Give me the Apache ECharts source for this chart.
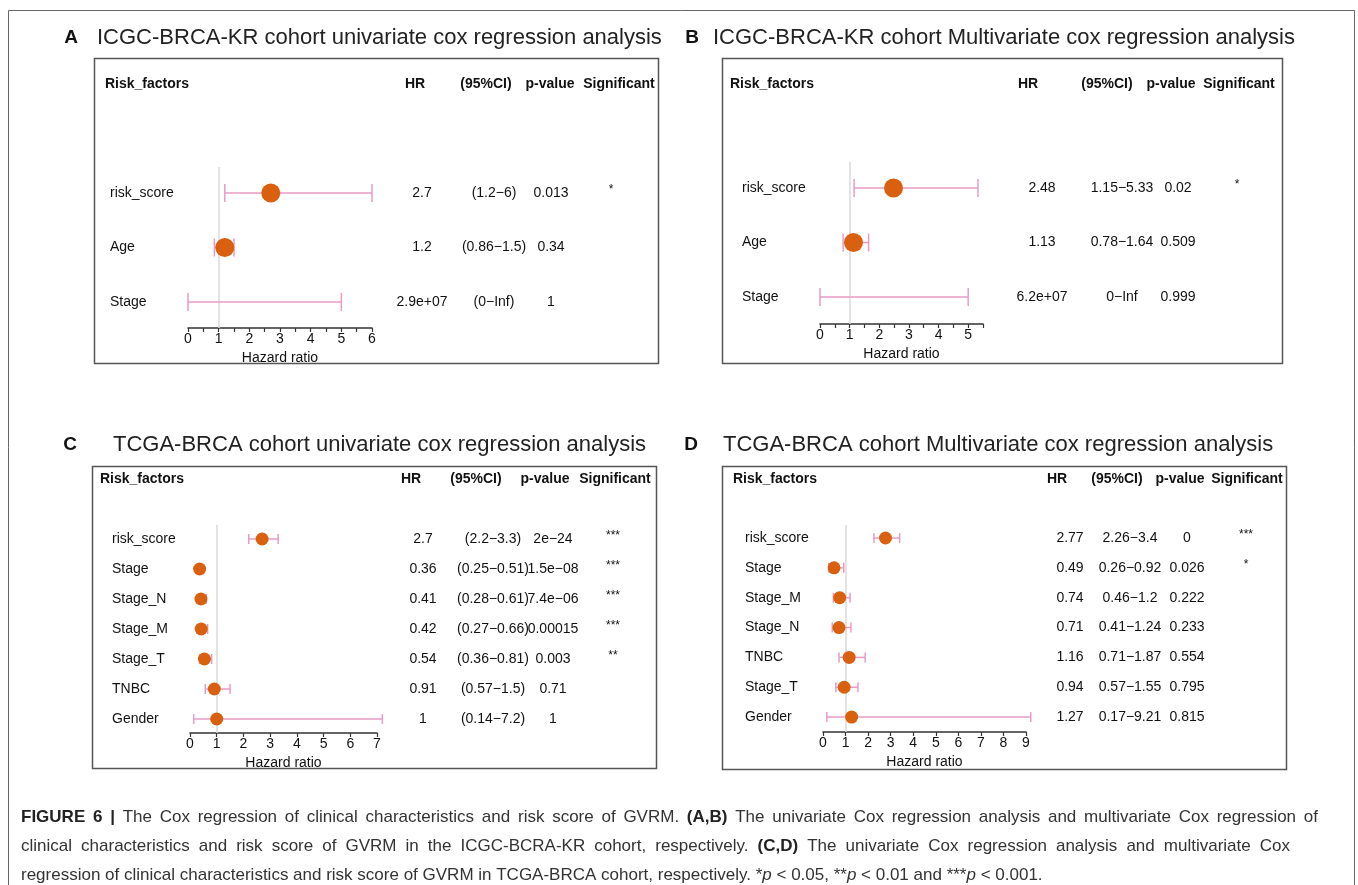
<!DOCTYPE html>
<html>
<head>
<meta charset="utf-8">
<script src="https://cdn.jsdelivr.net/npm/echarts@6.0.0/dist/echarts.min.js"></script>
<style>
html,body{margin:0;padding:0;background:#fff;}
#chart{width:1358px;height:885px;}
</style>
</head>
<body>
<div id="chart"></div>
<script>
// ---------------- DATA ----------------
const headerLabels = ['Risk_factors', 'HR', '(95%CI)', 'p-value', 'Significant'];

// Panel A : ICGC-BRCA-KR univariate
const aTitle = 'ICGC-BRCA-KR cohort univariate cox regression analysis';
const aFactors = ['risk_score', 'Age', 'Stage'];
const aHR = [2.7, 1.2, null];
const aLow = [1.2, 0.86, 0];
const aHigh = [6, 1.5, 5];
const aHRText = ['2.7', '1.2', '2.9e+07'];
const aCIText = ['(1.2\u22126)', '(0.86\u22121.5)', '(0\u2212Inf)'];
const aPText = ['0.013', '0.34', '1'];
const aSigText = ['*', '', ''];
const aTicks = [0, 1, 2, 3, 4, 5, 6];

// Panel B : ICGC-BRCA-KR multivariate
const bTitle = 'ICGC-BRCA-KR cohort Multivariate cox regression analysis';
const bFactors = ['risk_score', 'Age', 'Stage'];
const bHR = [2.48, 1.13, null];
const bLow = [1.15, 0.78, 0];
const bHigh = [5.33, 1.64, 5];
const bHRText = ['2.48', '1.13', '6.2e+07'];
const bCIText = ['1.15\u22125.33', '0.78\u22121.64', '0\u2212Inf'];
const bPText = ['0.02', '0.509', '0.999'];
const bSigText = ['*', '', ''];
const bTicks = [0, 1, 2, 3, 4, 5];

// Panel C : TCGA-BRCA univariate
const cTitle = 'TCGA-BRCA cohort univariate cox regression analysis';
const cFactors = ['risk_score', 'Stage', 'Stage_N', 'Stage_M', 'Stage_T', 'TNBC', 'Gender'];
const cHR = [2.7, 0.36, 0.41, 0.42, 0.54, 0.91, 1];
const cLow = [2.2, 0.25, 0.28, 0.27, 0.36, 0.57, 0.14];
const cHigh = [3.3, 0.51, 0.61, 0.66, 0.81, 1.5, 7.2];
const cHRText = ['2.7', '0.36', '0.41', '0.42', '0.54', '0.91', '1'];
const cCIText = ['(2.2\u22123.3)', '(0.25\u22120.51)', '(0.28\u22120.61)', '(0.27\u22120.66)', '(0.36\u22120.81)', '(0.57\u22121.5)', '(0.14\u22127.2)'];
const cPText = ['2e\u221224', '1.5e\u221208', '7.4e\u221206', '0.00015', '0.003', '0.71', '1'];
const cSigText = ['***', '***', '***', '***', '**', '', ''];
const cTicks = [0, 1, 2, 3, 4, 5, 6, 7];

// Panel D : TCGA-BRCA multivariate
const dTitle = 'TCGA-BRCA cohort Multivariate cox regression analysis';
const dFactors = ['risk_score', 'Stage', 'Stage_M', 'Stage_N', 'TNBC', 'Stage_T', 'Gender'];
const dHR = [2.77, 0.49, 0.74, 0.71, 1.16, 0.94, 1.27];
const dLow = [2.26, 0.26, 0.46, 0.41, 0.71, 0.57, 0.17];
const dHigh = [3.4, 0.92, 1.2, 1.24, 1.87, 1.55, 9.21];
const dHRText = ['2.77', '0.49', '0.74', '0.71', '1.16', '0.94', '1.27'];
const dCIText = ['2.26\u22123.4', '0.26\u22120.92', '0.46\u22121.2', '0.41\u22121.24', '0.71\u22121.87', '0.57\u22121.55', '0.17\u22129.21'];
const dPText = ['0', '0.026', '0.222', '0.233', '0.554', '0.795', '0.815'];
const dSigText = ['***', '*', '', '', '', '', ''];
const dTicks = [0, 1, 2, 3, 4, 5, 6, 7, 8, 9];

const referenceHR = 1;
const axisName = 'Hazard ratio';

const captionLines = [
  '{b|FIGURE 6 |} The Cox regression of clinical characteristics and risk score of GVRM. {b|(A,B)} The univariate Cox regression analysis and multivariate Cox regression of',
  'clinical characteristics and risk score of GVRM in the ICGC-BCRA-KR cohort, respectively. {b|(C,D)} The univariate Cox regression analysis and multivariate Cox',
  'regression of clinical characteristics and risk score of GVRM in TCGA-BRCA cohort, respectively. *{i|p} < 0.05, **{i|p} < 0.01 and ***{i|p} < 0.001.'
];

// ---------------- STYLE / LAYOUT ----------------
const FONT = "'Liberation Sans', Arial, Helvetica, sans-serif";
const ORANGE = '#D8600F';
const PINK = '#E89BC7';
const REFGREY = '#DADADA';
const TEXT = '#111';

const panels = [
  { letter: 'A', title: aTitle, factors: aFactors, hr: aHR, low: aLow, high: aHigh,
    hrText: aHRText, ciText: aCIText, pText: aPText, sigText: aSigText, ticks: aTicks,
    xMax: 6, xInterval: 0.5,
    L: { letterX: 71, titleX: 97, titleY: 38, box: [94, 58, 564, 305], headerY: 84,
         headerX: [105, 415, 486, 550, 619],
         grid: { left: 188, top: 167, width: 184, height: 161 }, yRange: [-0.477, 2.477],
         col: { name: 110, hr: 422, ci: 494, p: 551, sig: 611 }, dot: 19, cap: 9 } },
  { letter: 'B', title: bTitle, factors: bFactors, hr: bHR, low: bLow, high: bHigh,
    hrText: bHRText, ciText: bCIText, pText: bPText, sigText: bSigText, ticks: bTicks,
    xMax: 5.5, xInterval: 0.5,
    L: { letterX: 692, titleX: 713, titleY: 38, box: [722, 58, 560, 305], headerY: 84,
         headerX: [730, 1028, 1107, 1171, 1239],
         grid: { left: 820, top: 162, width: 163, height: 162 }, yRange: [-0.477, 2.495],
         col: { name: 742, hr: 1042, ci: 1122, p: 1178, sig: 1237 }, dot: 19, cap: 9 } },
  { letter: 'C', title: cTitle, factors: cFactors, hr: cHR, low: cLow, high: cHigh,
    hrText: cHRText, ciText: cCIText, pText: cPText, sigText: cSigText, ticks: cTicks,
    xMax: 7, xInterval: 1,
    L: { letterX: 70, titleX: 113, titleY: 445, box: [92, 466, 564, 302], headerY: 479,
         headerX: [100, 411, 476, 545, 615],
         grid: { left: 190, top: 525, width: 187, height: 208 }, yRange: [-0.467, 6.467],
         col: { name: 112, hr: 423, ci: 493, p: 553, sig: 613 }, dot: 13, cap: 5 } },
  { letter: 'D', title: dTitle, factors: dFactors, hr: dHR, low: dLow, high: dHigh,
    hrText: dHRText, ciText: dCIText, pText: dPText, sigText: dSigText, ticks: dTicks,
    xMax: 9, xInterval: 1,
    L: { letterX: 691, titleX: 723, titleY: 445, box: [722, 466, 564, 303], headerY: 479,
         headerX: [733, 1057, 1117, 1180, 1247],
         grid: { left: 823, top: 525, width: 203, height: 207 }, yRange: [-0.436, 6.50],
         col: { name: 745, hr: 1070, ci: 1130, p: 1187, sig: 1246 }, dot: 13, cap: 5 } }
];

// caption layout: left edge, rows, right edge for stretched lines (null = natural)
const CAP = { x: 21, y0: 817, dy: 29, size: 17, right: [1318, 1290, null] };

// ---------------- BUILD OPTION ----------------
const grids = [], xAxes = [], yAxes = [], series = [], graphics = [];

// outer frame
graphics.push({ type: 'polyline', silent: true,
  shape: { points: [[8.5, 885], [8.5, 10.5], [1354.5, 10.5], [1354.5, 885]] },
  style: { stroke: '#666', lineWidth: 1, fill: null } });

panels.forEach((P, k) => {
  const L = P.L;
  grids.push({ left: L.grid.left, top: L.grid.top, width: L.grid.width, height: L.grid.height, containLabel: false });
  const tickSet = new Set(P.ticks);
  xAxes.push({
    type: 'value', gridIndex: k, min: 0, max: P.xMax, interval: P.xInterval,
    position: 'bottom',
    name: axisName, nameLocation: 'middle', nameGap: 23,
    nameTextStyle: { fontFamily: FONT, fontSize: 14, color: TEXT },
    splitLine: { show: false },
    axisLine: { show: true, onZero: false, lineStyle: { color: '#333', width: 1.5 } },
    axisTick: { show: true, inside: false, length: 4, lineStyle: { color: '#333', width: 1.2 } },
    axisLabel: { show: true, margin: 4, fontFamily: FONT, fontSize: 14, color: TEXT,
      showMinLabel: true, showMaxLabel: true,
      formatter: v => (tickSet.has(v) ? String(v) : '') }
  });
  yAxes.push({ type: 'value', gridIndex: k, inverse: true, min: L.yRange[0], max: L.yRange[1], show: false });

  // error bars
  series.push({
    type: 'custom', xAxisIndex: k, yAxisIndex: k, clip: false, silent: true, z: 2,
    data: P.factors.map((f, i) => [P.low[i], P.high[i], i]),
    encode: { x: [0, 1], y: 2 },
    renderItem: (params, api) => {
      const p1 = api.coord([api.value(0), api.value(2)]);
      const p2 = api.coord([api.value(1), api.value(2)]);
      const st = { stroke: PINK, lineWidth: 1.5 };
      const c = L.cap;
      return { type: 'group', children: [
        { type: 'line', shape: { x1: p1[0], y1: p1[1], x2: p2[0], y2: p2[1] }, style: st },
        { type: 'line', shape: { x1: p1[0], y1: p1[1] - c, x2: p1[0], y2: p1[1] + c }, style: st },
        { type: 'line', shape: { x1: p2[0], y1: p2[1] - c, x2: p2[0], y2: p2[1] + c }, style: st }
      ] };
    }
  });

  // points + reference line
  series.push({
    type: 'scatter', xAxisIndex: k, yAxisIndex: k, silent: true, z: 3,
    symbol: 'circle', symbolSize: L.dot, itemStyle: { color: ORANGE, opacity: 1 },
    data: P.hr.map((v, i) => (v === null ? null : [v, i])).filter(d => d !== null),
    markLine: { silent: true, symbol: 'none', animation: false, z: 1,
      label: { show: false },
      lineStyle: { color: REFGREY, type: 'solid', width: 1.5 },
      data: [{ xAxis: referenceHR }] }
  });

  // table texts per row
  series.push({
    type: 'custom', xAxisIndex: k, yAxisIndex: k, clip: false, silent: true, z: 4,
    data: P.factors.map((f, i) => [0, i]),
    encode: { x: 0, y: 1 },
    renderItem: (params, api) => {
      const i = params.dataIndex;
      const y = api.coord([0, api.value(1)])[1];
      const mk = (txt, x, align) => ({ type: 'text', x: x, y: y,
        style: { text: txt, fill: TEXT, font: '14px ' + FONT, align: align, verticalAlign: 'middle' } });
      return { type: 'group', children: [
        mk(P.factors[i], L.col.name, 'left'),
        mk(P.hrText[i], L.col.hr, 'center'),
        mk(P.ciText[i], L.col.ci, 'center'),
        mk(P.pText[i], L.col.p, 'center'),
        { type: 'text', x: L.col.sig, y: y - 3,
          style: { text: P.sigText[i], fill: TEXT, font: '12px ' + FONT, align: 'center', verticalAlign: 'middle' } }
      ] };
    }
  });

  // box
  graphics.push({ type: 'rect', silent: true,
    shape: { x: L.box[0] + 0.5, y: L.box[1] + 0.5, width: L.box[2], height: L.box[3] },
    style: { stroke: '#555', lineWidth: 1.5, fill: null } });
  // letter and title
  graphics.push({ type: 'text', silent: true, x: L.letterX, y: L.titleY,
    style: { text: P.letter, font: 'bold 19px ' + FONT, fill: '#111', align: 'center', verticalAlign: 'middle' } });
  graphics.push({ type: 'text', silent: true, x: L.titleX, y: L.titleY,
    style: { text: P.title, font: '22px ' + FONT, fill: '#222', align: 'left', verticalAlign: 'middle' } });
  // header
  headerLabels.forEach((h, j) => {
    graphics.push({ type: 'text', silent: true, x: L.headerX[j], y: L.headerY,
      style: { text: h, font: 'bold 14px ' + FONT, fill: TEXT, align: j === 0 ? 'left' : 'center', verticalAlign: 'middle' } });
  });
});

// ---------------- caption (justified word layout) ----------------
const measureCtx = document.createElement('canvas').getContext('2d');
function runFont(tag) {
  const w = tag === 'b' ? 'bold ' : '';
  const s = tag === 'i' ? 'italic ' : '';
  return s + w + CAP.size + 'px ' + FONT;
}
function parseRuns(line) {
  const runs = [];
  const re = /\{([a-z])\|([^}]*)\}/g;
  let last = 0, m;
  while ((m = re.exec(line)) !== null) {
    if (m.index > last) runs.push({ tag: 'n', text: line.slice(last, m.index) });
    runs.push({ tag: m[1], text: m[2] });
    last = re.lastIndex;
  }
  if (last < line.length) runs.push({ tag: 'n', text: line.slice(last) });
  return runs;
}
captionLines.forEach((line, j) => {
  const words = [[]];
  parseRuns(line).forEach(r => {
    const parts = r.text.split(' ');
    parts.forEach((p, pi) => {
      if (pi > 0) words.push([]);
      if (p.length) words[words.length - 1].push({ tag: r.tag, text: p });
    });
  });
  const ws = words.filter(w => w.length);
  const widths = ws.map(w => w.reduce((s, piece) => {
    measureCtx.font = runFont(piece.tag); return s + measureCtx.measureText(piece.text).width; }, 0));
  measureCtx.font = runFont('n');
  const space = measureCtx.measureText(' ').width;
  const natural = widths.reduce((a, b) => a + b, 0) + space * (ws.length - 1);
  let gap = space;
  if (CAP.right[j] !== null) gap = Math.max(space, space + (CAP.right[j] - CAP.x - natural) / (ws.length - 1));
  let x = CAP.x;
  const y = CAP.y0 + j * CAP.dy;
  ws.forEach(w => {
    w.forEach(piece => {
      measureCtx.font = runFont(piece.tag);
      graphics.push({ type: 'text', silent: true, x: x, y: y,
        style: { text: piece.text, font: runFont(piece.tag), fill: piece.tag === 'b' ? '#222' : '#333',
                 align: 'left', verticalAlign: 'middle' } });
      x += measureCtx.measureText(piece.text).width;
    });
    x += gap;
  });
});

const chart = echarts.init(document.getElementById('chart'), null, { renderer: 'canvas' });
chart.setOption({
  animation: false,
  backgroundColor: '#fff',
  grid: grids, xAxis: xAxes, yAxis: yAxes, series: series, graphic: graphics
});
</script>
</body>
</html>
